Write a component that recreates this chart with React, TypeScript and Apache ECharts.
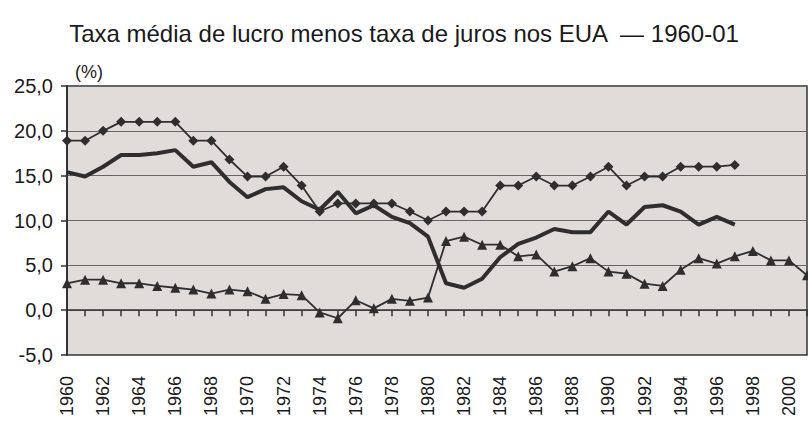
import React, { useEffect, useRef } from "react";
import * as echarts from "echarts";

const years: string[] = [];
for (let y = 1960; y <= 2001; y++) years.push(String(y));

// Diamond series (1960–1997)
const diamondSeries = [18.9, 18.9, 20, 21, 21, 21, 21, 18.9, 18.9, 16.8, 14.9, 14.9, 16, 13.9, 11, 11.9, 11.9, 11.9, 11.9, 11, 10, 11, 11, 11, 13.9, 13.9, 14.9, 13.9, 13.9, 14.9, 16, 13.9, 14.9, 14.9, 16, 16, 16, 16.2];
// Thick line (1960–1997)
const thickSeries = [15.4, 14.9, 16.0, 17.3, 17.3, 17.5, 17.85, 16.0, 16.5, 14.3, 12.6, 13.5, 13.7, 12.15, 11.2, 13.2, 10.8, 11.7, 10.4, 9.7, 8.2, 3.0, 2.5, 3.5, 5.9, 7.4, 8.1, 9.05, 8.7, 8.7, 11.0, 9.55, 11.5, 11.7, 11.0, 9.55, 10.4, 9.55];
// Triangle series (1960–2001)
const triangleSeries = [3.0, 3.4, 3.4, 3.0, 3.0, 2.7, 2.5, 2.3, 1.85, 2.3, 2.1, 1.26, 1.8, 1.67, -0.25, -0.9, 1.1, 0.2, 1.26, 1.04, 1.4, 7.7, 8.2, 7.3, 7.3, 6.0, 6.2, 4.3, 4.9, 5.8, 4.3, 4.07, 2.96, 2.7, 4.5, 5.8, 5.2, 6.0, 6.6, 5.55, 5.55, 3.9];

const title = "Taxa média de lucro menos taxa de juros nos EUA  — 1960-01";
const unitLabel = "(%)";

export default function App() {
  const ref = useRef<HTMLDivElement>(null);
  useEffect(() => {
    if (!ref.current) return;
    const chart = echarts.init(ref.current, undefined, { renderer: "svg" });
    const font = "'Liberation Sans', Arial, Helvetica, sans-serif";
    const ink = "#2e2e2e";
    chart.setOption({
      animation: false,
      backgroundColor: "#ffffff",
      textStyle: { fontFamily: font },
      title: {
        text: title,
        left: "center",
        top: 16,
        textStyle: { fontFamily: font, fontSize: 24, fontWeight: "normal", color: "#1a1a1a" },
      },
      graphic: [
        {
          type: "text",
          left: 75,
          top: 63,
          style: { text: unitLabel, font: `18px ${font}`, fill: "#1a1a1a" },
        },
      ],
      grid: {
        left: 67,
        top: 86,
        right: 1,
        bottom: 66,
        outerBoundsMode: "none",
        containLabel: false,
        show: true,
        backgroundColor: "#e0dcda",
        borderColor: "#333333",
        borderWidth: 1.5,
      },
      xAxis: {
        type: "category",
        data: years,
        boundaryGap: false,
        axisLine: { onZero: true, lineStyle: { color: "#333333", width: 1.5 } },
        axisTick: { show: true, interval: 0, length: 6, lineStyle: { color: "#333333", width: 1.5 } },
        axisLabel: {
          interval: 1,
          rotate: 90,
          margin: 21,
          fontSize: 18,
          color: "#1a1a1a",
          fontFamily: font,
        },
        splitLine: { show: false },
      },
      yAxis: {
        type: "value",
        min: -5,
        max: 25,
        interval: 5,
        axisLine: { show: true, lineStyle: { color: "#333333", width: 2 } },
        axisTick: { show: true, length: 6, lineStyle: { color: "#333333", width: 1.5 } },
        axisLabel: {
          margin: 14,
          fontSize: 20,
          color: "#1a1a1a",
          fontFamily: font,
          formatter: (v: number) => v.toFixed(1).replace(".", ","),
        },
        splitLine: { show: true, lineStyle: { color: "#666666", width: 1.2 } },
      },
      series: [
        {
          type: "line",
          data: diamondSeries,
          symbol: "diamond",
          symbolSize: 10,
          lineStyle: { color: ink, width: 1.8 },
          itemStyle: { color: ink },
          z: 3,
        },
        {
          type: "line",
          data: thickSeries,
          showSymbol: false,
          symbol: "none",
          lineStyle: { color: ink, width: 4 },
          itemStyle: { color: ink },
          z: 2,
        },
        {
          type: "line",
          data: triangleSeries,
          symbol: "triangle",
          symbolSize: 10,
          lineStyle: { color: ink, width: 1.8 },
          itemStyle: { color: ink },
          z: 3,
        },
      ],
    });
    return () => chart.dispose();
  }, []);
  return (
    <div
      ref={ref}
      style={{ position: "fixed", left: 0, top: 0, width: 808, height: 421 }}
    />
  );
}
